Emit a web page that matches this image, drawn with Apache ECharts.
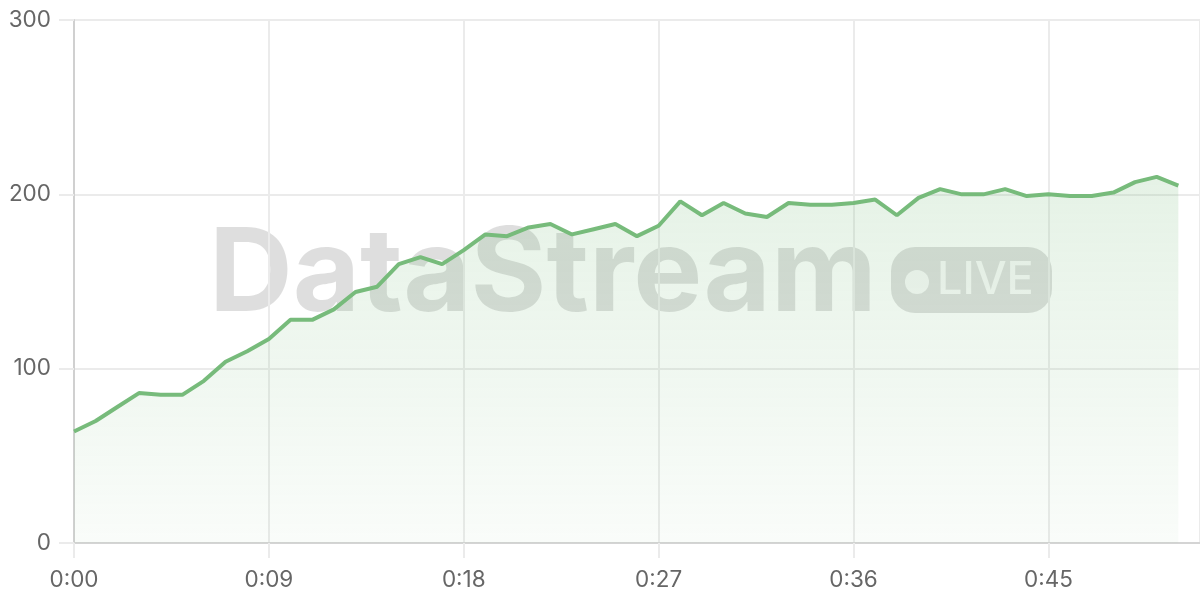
<!DOCTYPE html>
<html>
<head>
<meta charset="utf-8">
<style>
  html, body { margin: 0; padding: 0; background: #fff; }
  #chart { width: 1200px; height: 600px; }
</style>
<script src="https://cdn.jsdelivr.net/npm/echarts@6/dist/echarts.min.js"></script>
</head>
<body>
<div id="chart"></div>
<script>
// seconds since start
var seconds = [];
for (var s = 0; s <= 51; s++) seconds.push(s);

var values = [
  64, 70, 78, 86, 85, 85, 93, 104, 110, 117,
  128, 128, 134, 144, 147, 160, 164, 160, 168, 177,
  176, 181, 183, 177, 180, 183, 176, 182, 196, 188,
  195, 189, 187, 195, 194, 194, 195, 197, 188, 198,
  203, 200, 200, 203, 199, 200, 199, 199, 201, 207,
  210, 205
];

var yTicks = [0, 100, 200, 300];

var lineColor = '#77bb7b';
var labelFont = 'Inter, "Noto Sans", sans-serif';

var chart = echarts.init(document.getElementById('chart'));

chart.setOption({
  animation: false,
  grid: { left: 74, right: 0, top: 20, bottom: 57 },
  graphic: [{
    type: 'group',
    z: 1,
    silent: true,
    children: [
      {
        type: 'text',
        left: 209,
        top: 218,
        style: {
          text: 'DataStream',
          font: 'bold 116px Inter, "Noto Sans", sans-serif',
          fill: 'rgba(0,0,0,0.13)'
        }
      },
      {
        type: 'rect',
        shape: { x: 891, y: 247, width: 161, height: 66, r: 24 },
        style: { fill: 'rgba(0,0,0,0.13)' }
      },
      {
        type: 'circle',
        shape: { cx: 917, cy: 282, r: 12 },
        style: { fill: 'rgba(255,255,255,0.8)' }
      },
      {
        type: 'text',
        x: 937,
        y: 280,
        style: {
          text: 'LIVE',
          font: '500 45px Inter, "Noto Sans", sans-serif',
          fill: 'rgba(255,255,255,0.8)',
          verticalAlign: 'middle'
        }
      }
    ]
  }],
  xAxis: {
    type: 'value',
    min: 0,
    max: 52,
    interval: 9,
    axisLine: { show: true, lineStyle: { color: '#d4d4d4', width: 2 } },
    axisTick: { show: true, length: 15, lineStyle: { color: '#ebebeb', width: 2 } },
    splitLine: { show: true, lineStyle: { color: '#ebebeb', width: 2 } },
    axisLabel: {
      margin: 26,
      fontSize: 22.5,
      color: '#666',
      fontFamily: labelFont,
      showMaxLabel: false,
      formatter: function (v) {
        if (v % 9 !== 0) return '';
        return Math.floor(v / 60) + ':' + (v % 60 < 10 ? '0' : '') + (v % 60);
      }
    }
  },
  yAxis: {
    type: 'value',
    min: yTicks[0],
    max: yTicks[yTicks.length - 1],
    interval: 100,
    axisLine: { show: true, lineStyle: { color: '#d0d0d0', width: 2 } },
    axisTick: { show: true, length: 15, lineStyle: { color: '#ebebeb', width: 2 } },
    splitLine: { show: true, lineStyle: { color: '#ebebeb', width: 2 } },
    axisLabel: {
      margin: 23,
      fontSize: 22.5,
      color: '#666',
      fontFamily: labelFont
    }
  },
  series: [{
    type: 'line',
    z: 3,
    data: seconds.map(function (s, i) { return [s, values[i]]; }),
    showSymbol: false,
    lineStyle: { color: lineColor, width: 4 },
    itemStyle: { color: lineColor },
    areaStyle: {
      color: new echarts.graphic.LinearGradient(0, 0, 0, 1, [
        { offset: 0, color: 'rgba(119,187,123,0.27)' },
        { offset: 1, color: 'rgba(119,187,123,0.06)' }
      ])
    }
  }]
});
</script>
</body>
</html>
